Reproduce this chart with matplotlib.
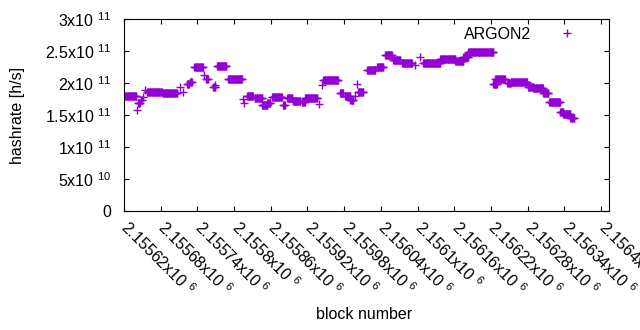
import numpy as np
import matplotlib
matplotlib.use("Agg")
import matplotlib.pyplot as plt
import matplotlib.transforms as mtransforms

plt.rcParams['font.family'] = ['Liberation Sans', 'DejaVu Sans']
plt.rcParams['mathtext.fontset'] = 'custom'
plt.rcParams['mathtext.rm'] = 'Liberation Sans'
plt.rcParams['mathtext.default'] = 'regular'

# Data: runs of consecutive blocks with a constant hashrate estimate (units of 1e11 h/s)
seg_start = [2155622, 2155641, 2155643, 2155648, 2155651, 2155654, 2155658, 2155683, 2155712,
             2155717, 2155723, 2155728, 2155735, 2155751, 2155754, 2155766, 2155768, 2155772,
             2155790, 2155815, 2155816, 2155821, 2155834, 2155846, 2155854, 2155862, 2155880,
             2155887, 2155896, 2155911, 2155916, 2155939, 2155944, 2155946, 2155973, 2155982,
             2155990, 2155998, 2156001, 2156003, 2156018, 2156034, 2156047, 2156060, 2156075,
             2156096, 2156104, 2156109, 2156137, 2156162, 2156175, 2156183, 2156224, 2156227,
             2156247, 2156252, 2156281, 2156289, 2156305, 2156315, 2156333, 2156338, 2156350]
seg_end = [2155640, 2155641, 2155646, 2155649, 2155651, 2155654, 2155682, 2155707, 2155712,
           2155717, 2155726, 2155731, 2155749, 2155751, 2155757, 2155769, 2155768, 2155787,
           2155813, 2155815, 2155816, 2155831, 2155846, 2155854, 2155859, 2155878, 2155883,
           2155895, 2155908, 2155916, 2155936, 2155939, 2155944, 2155970, 2155978, 2155990,
           2155995, 2155998, 2156001, 2156011, 2156031, 2156044, 2156058, 2156072, 2156091,
           2156096, 2156104, 2156137, 2156162, 2156175, 2156183, 2156224, 2156230, 2156243,
           2156252, 2156279, 2156289, 2156305, 2156314, 2156333, 2156338, 2156350, 2156356]
seg_value = [1.80, 1.58, 1.68, 1.73, 1.78, 1.89, 1.86, 1.84, 1.94,
             1.86, 1.99, 2.02, 2.25, 2.12, 2.06, 1.93, 1.97, 2.26,
             2.06, 1.75, 1.68, 1.79, 1.76, 1.66, 1.69, 1.78, 1.66,
             1.76, 1.72, 1.71, 1.76, 1.67, 1.97, 2.04, 1.85, 1.79,
             1.73, 1.79, 1.98, 1.86, 2.20, 2.25, 2.43, 2.36, 2.32,
             2.28, 2.40, 2.32, 2.38, 2.35, 2.41, 2.48, 1.98, 2.06,
             2.00, 2.01, 1.94, 1.92, 1.84, 1.71, 1.55, 1.52, 1.46]

x_ticks = [2155620 + 60 * i for i in range(14)]
y_ticks = [0, 0.5e11, 1.0e11, 1.5e11, 2.0e11, 2.5e11, 3.0e11]
y_tick_labels = ['0', '5x10 $^{10}$', '1x10 $^{11}$', '1.5x10 $^{11}$', '2x10 $^{11}$',
                 '2.5x10 $^{11}$', '3x10 $^{11}$']

blocks = []
rates = []
for s, e, v in zip(seg_start, seg_end, seg_value):
    for b in range(s, e + 1):
        blocks.append(b)
        rates.append(v * 1e11)

FS = 11.5
color = '#9400D3'
fig = plt.figure(figsize=(6.4, 3.3), dpi=100)
ax = fig.add_axes([124 / 640, 1 - 211 / 330, (609 - 124) / 640, (211 - 19) / 330])
ax.plot(blocks, rates, linestyle='none', marker='+', markersize=5.2, markeredgewidth=1.0,
        color=color, label='ARGON2')

ax.set_xlim(2155620, 2156413)
ax.set_ylim(0, 3e11)
ax.set_xticks(x_ticks)
ax.set_xticklabels([f"{v/1e6:g}x10 $^{{6}}$" for v in x_ticks], rotation=-45,
                   ha='left', va='top', rotation_mode='anchor', fontsize=FS)
ax.set_yticks(y_ticks)
ax.set_yticklabels(y_tick_labels, fontsize=FS)
ax.tick_params(direction='in', length=3.5, width=0.8, top=True, right=True)
ax.tick_params(axis='x', pad=7)
ax.tick_params(axis='y', pad=9)
offset = mtransforms.ScaledTranslation(0.07, 0.03, fig.dpi_scale_trans)
for lab in ax.get_xticklabels():
    lab.set_transform(lab.get_transform() + offset)
for sp in ax.spines.values():
    sp.set_linewidth(0.8)

ax.set_xlabel('block number', fontsize=FS)
ax.set_ylabel('hashrate [h/s]', fontsize=FS)
ax.xaxis.set_label_coords(0.495, -0.5)
ax.yaxis.set_label_coords(-0.205, 0.5)

ax.legend(loc='upper right', markerfirst=False, frameon=False, numpoints=1,
          handlelength=2.5, handletextpad=1.0, borderpad=0, borderaxespad=0,
          bbox_to_anchor=(0.955, 0.96), fontsize=FS)

fig.savefig('out.png', dpi=100)
